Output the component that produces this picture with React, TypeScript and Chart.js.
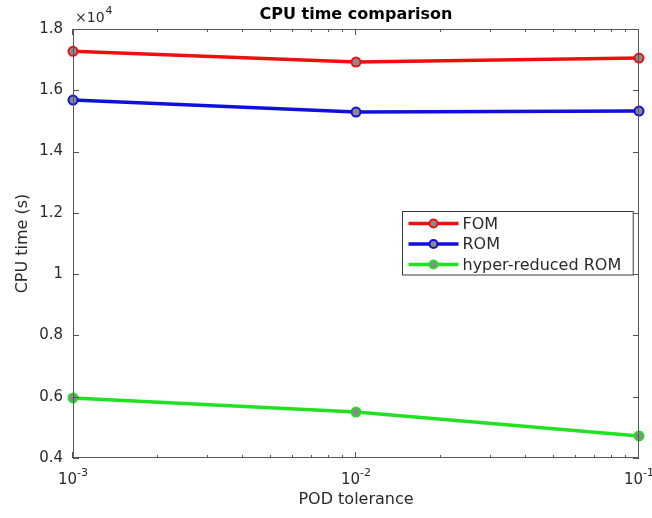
import React, { useEffect, useRef } from "react";
import { Chart, registerables } from "chart.js";

Chart.register(...registerables);

// ---- data ----
const podTolerance = [0.001, 0.01, 0.1];
const fomTime = [17270, 16920, 17050];
const romTime = [15680, 15290, 15320];
const hyperTime = [5960, 5500, 4720];
const seriesNames = ["FOM", "ROM", "hyper-reduced ROM"];
const seriesColors = ["#ee1010", "#1010dd", "#22e022"];
const xMajorTicks = [0.001, 0.01, 0.1];
const xTickBase = "10";
const xTickExponents = ["-3", "-2", "-1"];
const yMin = 4000;
const yMax = 18000;
const yStep = 2000;

const FONT = "'DejaVu Sans', sans-serif";
const AXIS_COLOR = "#555555";
const TEXT_COLOR = "#2a2a2a";

const decorPlugin = {
  id: "decor",
  afterDraw(chart: any) {
    const { ctx, chartArea, scales } = chart;
    const { left, right, top, bottom } = chartArea;
    const xs = scales.x;
    const ys = scales.y;
    ctx.save();

    // box
    ctx.strokeStyle = AXIS_COLOR;
    ctx.lineWidth = 1;
    ctx.strokeRect(left + 0.5, top + 0.5, right - left - 1, bottom - top - 1);

    // y ticks, inside both sides
    ctx.beginPath();
    for (let v = yMin; v <= yMax; v += yStep) {
      const py = Math.round(ys.getPixelForValue(v)) + 0.5;
      ctx.moveTo(left, py);
      ctx.lineTo(left + 6, py);
      ctx.moveTo(right, py);
      ctx.lineTo(right - 6, py);
    }
    // x ticks (major + minor), inside top and bottom
    for (let d = 0.001; d < 0.1 * 1.0001; d *= 10) {
      for (let m = 1; m <= 9; m++) {
        const v = d * m;
        if (v > 0.1 * 1.0001) break;
        const px = Math.round(xs.getPixelForValue(v)) - 0.5;
        const len = m === 1 ? 6 : 3;
        ctx.moveTo(px, bottom);
        ctx.lineTo(px, bottom - len);
        ctx.moveTo(px, top);
        ctx.lineTo(px, top + len);
      }
    }
    ctx.stroke();

    // x tick labels: 10 with superscript exponent
    ctx.fillStyle = TEXT_COLOR;
    ctx.textBaseline = "alphabetic";
    ctx.textAlign = "left";
    xMajorTicks.forEach((v, i) => {
      const px = xs.getPixelForValue(v);
      ctx.font = `15px ${FONT}`;
      const wb = ctx.measureText(xTickBase).width;
      ctx.font = `11px ${FONT}`;
      const we = ctx.measureText(xTickExponents[i]).width;
      const x0 = px - (wb + we) / 2;
      ctx.font = `15px ${FONT}`;
      ctx.fillText(xTickBase, x0, 484);
      ctx.font = `11px ${FONT}`;
      ctx.fillText(xTickExponents[i], x0 + wb, 476);
    });

    // title
    ctx.fillStyle = "#000";
    ctx.font = `bold 16px ${FONT}`;
    ctx.textAlign = "center";
    ctx.fillText("CPU time comparison", (left + right) / 2, 19);

    // x10^4 exponent label
    ctx.fillStyle = TEXT_COLOR;
    ctx.textAlign = "left";
    ctx.font = `14px ${FONT}`;
    ctx.fillText("\u00D710", left + 2, 22);
    const w = ctx.measureText("\u00D710").width;
    ctx.font = `11px ${FONT}`;
    ctx.fillText("4", left + 2 + w + 1, 14);

    // legend
    ctx.font = `16px ${FONT}`;
    let maxW = 0;
    seriesNames.forEach((n) => (maxW = Math.max(maxW, ctx.measureText(n).width)));
    const lineLen = 50;
    const boxW = 6 + lineLen + 4 + maxW + 12;
    const rowH = 20.5;
    const boxH = rowH * seriesNames.length + 2;
    const bx = Math.round(right - 6 - boxW) + 0.5;
    const by = Math.round(top + 182) + 0.5;
    ctx.fillStyle = "#fff";
    ctx.fillRect(bx, by, boxW, boxH);
    ctx.strokeStyle = "#3a3a3a";
    ctx.lineWidth = 1;
    ctx.strokeRect(bx, by, boxW, boxH);
    seriesNames.forEach((n, i) => {
      const cy = by + 12 + i * rowH;
      ctx.strokeStyle = seriesColors[i];
      ctx.lineWidth = 3.5;
      ctx.beginPath();
      ctx.moveTo(bx + 6, cy);
      ctx.lineTo(bx + 6 + lineLen, cy);
      ctx.stroke();
      ctx.beginPath();
      ctx.arc(bx + 6 + lineLen / 2, cy, 4, 0, Math.PI * 2);
      ctx.fillStyle = "#8a8a8a";
      ctx.fill();
      ctx.lineWidth = 2;
      ctx.stroke();
      ctx.fillStyle = TEXT_COLOR;
      ctx.textAlign = "left";
      ctx.textBaseline = "middle";
      ctx.fillText(n, bx + 6 + lineLen + 4, cy + 1);
    });
    ctx.restore();
  },
};

export default function App() {
  const canvasRef = useRef<HTMLCanvasElement | null>(null);

  useEffect(() => {
    document.body.style.margin = "0";
    const canvas = canvasRef.current;
    if (!canvas) return;
    const all = [fomTime, romTime, hyperTime];
    const chart = new Chart(canvas, {
      type: "line",
      data: {
        datasets: all.map((vals, i) => ({
          label: seriesNames[i],
          data: vals.map((v, j) => ({ x: podTolerance[j], y: v })),
          borderColor: seriesColors[i],
          backgroundColor: seriesColors[i],
          borderWidth: 3.5,
          pointRadius: 4.5,
          pointBackgroundColor: "#8a8a8a",
          pointBorderColor: seriesColors[i],
          pointBorderWidth: 2,
          tension: 0,
          clip: false as any,
        })),
      },
      options: {
        animation: false,
        responsive: false,
        layout: { padding: { top: 29, right: 13, left: 0, bottom: 0 } },
        plugins: {
          legend: { display: false },
          tooltip: { enabled: false },
          title: { display: false },
        },
        scales: {
          x: {
            type: "logarithmic",
            min: 0.001,
            max: 0.1,
            grid: { display: false, drawTicks: false },
            border: { display: false },
            afterBuildTicks: (scale: any) => {
              scale.ticks = xMajorTicks.map((v) => ({ value: v }));
            },
            afterFit: (scale: any) => {
              scale.height = 60;
              scale.paddingLeft = 0;
              scale.paddingRight = 0;
            },
            ticks: { display: false },
            title: {
              display: true,
              text: "POD tolerance",
              color: TEXT_COLOR,
              font: { family: FONT, size: 16 },
              padding: { top: 0, bottom: 9 },
            },
          },
          y: {
            type: "linear",
            min: yMin,
            max: yMax,
            grid: { display: false, drawTicks: false },
            border: { display: false },
            afterFit: (scale: any) => {
              scale.width = 73;
            },
            ticks: {
              stepSize: yStep,
              padding: 10,
              color: TEXT_COLOR,
              font: { family: FONT, size: 15 },
              callback: (v: any) => String(+(Number(v) / 10000).toFixed(1)),
            },
            title: {
              display: true,
              text: "CPU time (s)",
              color: TEXT_COLOR,
              font: { family: FONT, size: 16 },
              padding: { top: 13, bottom: 0 },
            },
          },
        },
      },
      plugins: [decorPlugin],
    });
    return () => chart.destroy();
  }, []);

  return (
    <div style={{ width: 652, height: 518, background: "#fff" }}>
      <canvas ref={canvasRef} width={652} height={518} style={{ display: "block" }} />
    </div>
  );
}
